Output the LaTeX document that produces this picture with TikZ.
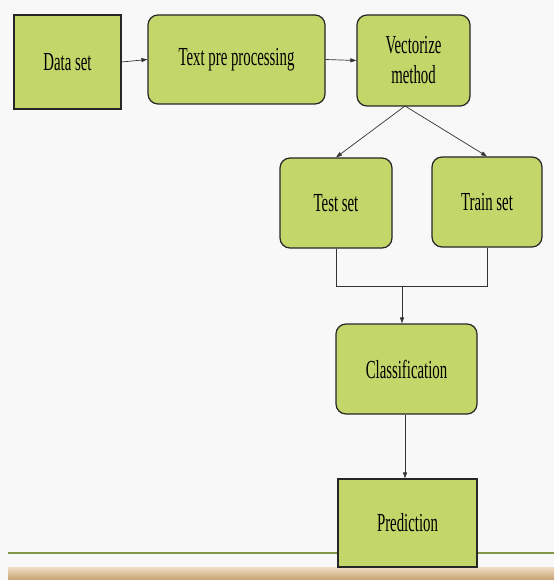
\documentclass[tikz,border=0pt]{standalone}
\usepackage{fontspec}
\setmainfont{Liberation Serif}[FakeStretch=0.57]
\usetikzlibrary{arrows.meta}
\definecolor{boxgreen}{RGB}{195,214,106}
\definecolor{linegreen}{RGB}{128,150,70}
\definecolor{bandtop}{RGB}{240,222,196}
\definecolor{bandbot}{RGB}{196,160,110}
\definecolor{bg}{RGB}{248,248,248}
\tikzset{
  sqbox/.style={draw=black!85, line width=1.2pt, fill=boxgreen, inner sep=0pt, align=center, font=\fontsize{26}{30}\selectfont},
  rdbox/.style={sqbox, rounded corners=10pt},
  conn/.style={draw=black!80, line width=0.7pt},
  arr/.style={conn, -{Triangle[length=6pt,width=4pt]}}
}
\begin{document}
\begin{tikzpicture}[x=1pt,y=-1pt]
\useasboundingbox (0,0) rectangle (554,580);
\fill[bg] (0,0) rectangle (554,580);
% bottom decoration
\shade[top color=bandtop, bottom color=bandbot] (8,567) rectangle (554,580);
\draw[linegreen, line width=2pt] (8,553) -- (554,553);
% boxes
\node[sqbox, minimum width=107pt, minimum height=94pt] (ds) at (67.5,62) {Data set};
\node[rdbox, minimum width=177pt, minimum height=89pt] (tp) at (236.5,59.5) {Text pre processing};
\node[rdbox, minimum width=113pt, minimum height=91pt] (vm) at (413.5,60.5) {Vectorize\\method};
\node[rdbox, minimum width=112pt, minimum height=90pt] (ts) at (336,203) {Test set};
\node[rdbox, minimum width=110pt, minimum height=90pt] (tr) at (487,202) {Train set};
\node[rdbox, minimum width=141pt, minimum height=90pt] (cl) at (406.5,369) {Classification};
\node[sqbox, minimum width=139pt, minimum height=88pt] (pr) at (407.5,523) {Prediction};
\coordinate (jl) at (ts.south |- 0,286);
\coordinate (jr) at (tr.south |- 0,286);
\coordinate (jm) at (402,286);
% connectors
\draw[arr] (ds.east) -- (tp.west);
\draw[arr] (tp.east) -- (vm.west);
\draw[arr] (405,106) -- (ts.north);
\draw[arr] (405,106) -- (tr.north);
\draw[conn] (ts.south) -- (jl) -- (jr) -- (tr.south);
\draw[arr] (jm) -- (cl.north -| jm);
\draw[arr] (cl.south -| 405,0) -- (pr.north -| 405,0);
\end{tikzpicture}
\end{document}
